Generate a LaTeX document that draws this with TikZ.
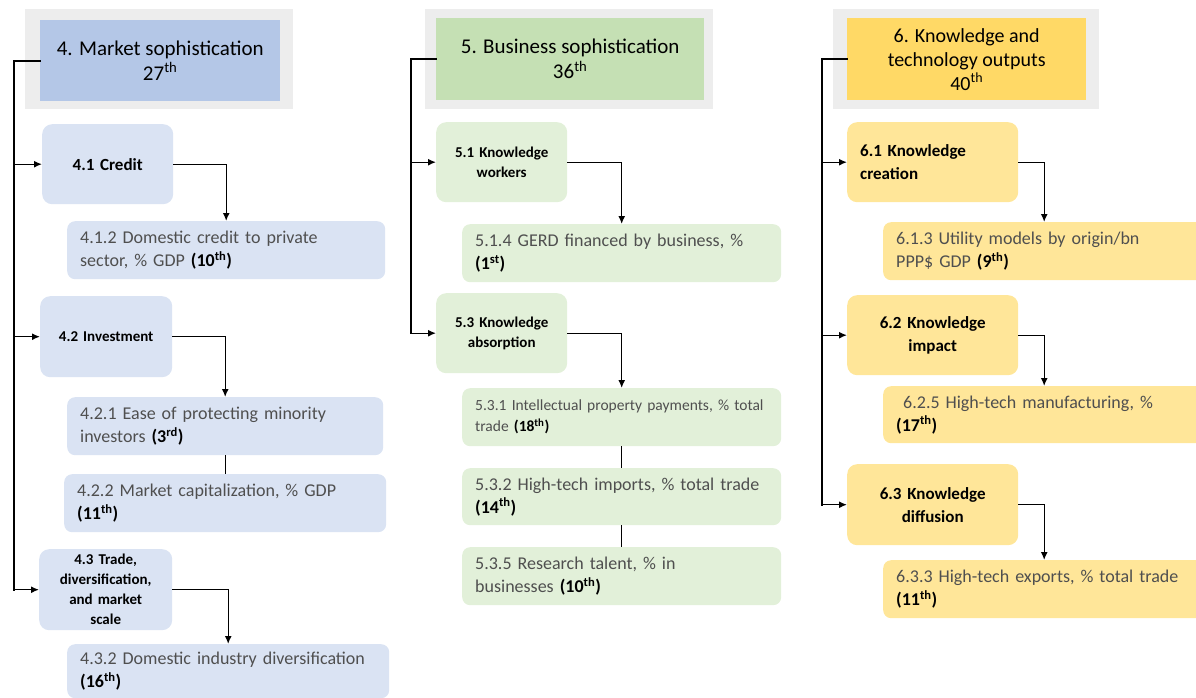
\documentclass[tikz,border=0pt]{standalone}
\usepackage{fontspec}
\setmainfont{Carlito}
\usetikzlibrary{arrows.meta}

\definecolor{bandgray}{HTML}{EDEDED}
\definecolor{blueH}{HTML}{B4C7E7}
\definecolor{blueL}{HTML}{DAE3F3}
\definecolor{greenH}{HTML}{C5E0B4}
\definecolor{greenL}{HTML}{E2F0D9}
\definecolor{goldH}{HTML}{FFD966}
\definecolor{goldL}{HTML}{FFE699}
\definecolor{leaftext}{HTML}{4F4F4F}

\newcommand{\rk}[1]{\textbf{\color{black}(#1)}}
\newcommand{\tha}{\textsuperscript{th}}

\tikzset{
  band/.style={anchor=north west, fill=bandgray, draw=none, inner sep=0pt},
  head/.style={anchor=north west, inner sep=0pt, align=center,
    font=\fontsize{21}{25}\selectfont, text=black},
  pillar/.style={anchor=north west, rounded corners=10pt, inner xsep=6pt, inner ysep=0pt,
    align=center, font=\fontsize{17}{23}\selectfont\bfseries},
  pillarsm/.style={pillar, font=\fontsize{15}{20}\selectfont\bfseries},
  leaf/.style={anchor=north west, rounded corners=8pt, inner xsep=13pt, inner ysep=0pt,
    align=left, text=leaftext, font=\fontsize{18}{23}\selectfont},
  trunk/.style={line width=2pt, line cap=rect},
  link/.style={line width=1.4pt, -{Latex[length=8pt,width=7pt]}},
  joint/.style={line width=1.4pt}
}

\begin{document}
\begin{tikzpicture}[x=1pt,y=-1pt]
\useasboundingbox (0,0) rectangle (1196,698);
\clip (0,0) rectangle (1196,698);

% ---------- 4. Market sophistication ----------
\node[band, minimum width=268pt, minimum height=100pt] (g4) at (25,9) {};
\node[head, fill=blueH, minimum width=240pt, minimum height=81pt] (h4) at (40,20)
  {4. Market sophistication\\27\tha};
\coordinate (t4) at (14,0);

\node[pillar, fill=blueL, text width=119pt, minimum height=80pt] (c41) at (42,124) {4.1 Credit};
\node[leaf, fill=blueL, text width=292pt, minimum height=58pt] (l412) at (67,221)
  {4.1.2 Domestic credit to private\\sector, \% GDP \rk{10\tha}};
\node[pillarsm, fill=blueL, text width=120pt, minimum height=81pt] (c42) at (40,296) {4.2 Investment};
\node[leaf, fill=blueL, text width=290pt, minimum height=58pt] (l421) at (67,397)
  {4.2.1 Ease of protecting minority\\investors \rk{3\textsuperscript{rd}}};
\node[leaf, fill=blueL, text width=296pt, minimum height=58pt] (l422) at (64,474)
  {4.2.2 Market capitalization, \% GDP\\\rk{11\tha}};
\node[pillarsm, fill=blueL, text width=121pt, minimum height=81pt] (c43) at (39,549)
  {4.3 Trade,\\diversification,\\and market\\scale};
\node[leaf, fill=blueL, text width=296pt, minimum height=54pt] (l432) at (67,644)
  {4.3.2 Domestic industry diversification\\\rk{16\tha}};

\draw[trunk] (h4.west) -- (h4.west -| t4) -- (c43.west -| t4);
\draw[link] (c41.west -| t4) -- (c41.west);
\draw[link] (c42.west -| t4) -- (c42.west);
\draw[link] (c43.west -| t4) -- (c43.west);
\draw[link] (c41.east) -| (l412.north);
\draw[link] (c42.east) -| (l421.north);
\draw[joint] (l421.south) -- (l421.south |- l422.north);
\draw[link] (c43.east) -| (l432.north);

% ---------- 5. Business sophistication ----------
\node[band, minimum width=288pt, minimum height=100pt] (g5) at (425,9) {};
\node[head, fill=greenH, minimum width=268pt, minimum height=82pt] (h5) at (436,18)
  {5. Business sophistication\\36\tha};
\coordinate (t5) at (411,0);

\node[pillarsm, fill=greenL, text width=119pt, minimum height=80pt] (c51) at (436,122)
  {5.1 Knowledge\\workers};
\node[leaf, fill=greenL, text width=293pt, minimum height=58pt] (l514) at (462,224)
  {5.1.4 GERD financed by business, \%\\\rk{1\textsuperscript{st}}};
\node[pillarsm, fill=greenL, text width=119pt, minimum height=80pt] (c53) at (436,293)
  {5.3 Knowledge\\absorption};
\node[leaf, fill=greenL, text width=293pt, minimum height=58pt,
  font=\fontsize{15.5}{21}\selectfont] (l531) at (462,388)
  {5.3.1 Intellectual property payments, \% total\\trade \rk{18\tha}};
\node[leaf, fill=greenL, text width=293pt, minimum height=57pt] (l532) at (462,468)
  {5.3.2 High-tech imports, \% total trade\\\rk{14\tha}};
\node[leaf, fill=greenL, text width=293pt, minimum height=58pt] (l535) at (462,547)
  {5.3.5 Research talent, \% in\\businesses \rk{10\tha}};

\draw[trunk] (h5.west) -- (h5.west -| t5) -- (c53.west -| t5);
\draw[link] (c51.west -| t5) -- (c51.west);
\draw[link] (c53.west -| t5) -- (c53.west);
\draw[link] (c51.east) -| (l514.north);
\draw[link] (c53.east) -| (l531.north);
\draw[joint] (l531.south) -- (l531.south |- l532.north);
\draw[joint] (l532.south) -- (l532.south |- l535.north);

% ---------- 6. Knowledge and technology outputs ----------
\node[band, minimum width=266pt, minimum height=100pt] (g6) at (833,9) {};
\node[head, fill=goldH, minimum width=239pt, minimum height=82pt,
  font=\fontsize{20}{24}\selectfont] (h6) at (847,18)
  {6. Knowledge and\\technology outputs\\40\tha};
\coordinate (t6) at (822,0);

\node[pillar, fill=goldL, text width=145pt, minimum height=80pt, align=left,
  inner xsep=13pt] (c61) at (847,122) {6.1 Knowledge\\creation};
\node[leaf, fill=goldL, text width=296pt, minimum height=58pt] (l613) at (883,222)
  {6.1.3 Utility models by origin/bn\\PPP\$ GDP \rk{9\tha}};
\node[pillar, fill=goldL, text width=159pt, minimum height=80pt] (c62) at (847,295)
  {6.2 Knowledge\\impact};
\node[leaf, fill=goldL, text width=296pt, minimum height=57pt] (l625) at (883,386)
  {\hspace{7pt}6.2.5 High-tech manufacturing, \%\\\rk{17\tha}};
\node[pillar, fill=goldL, text width=159pt, minimum height=81pt] (c63) at (847,464)
  {6.3 Knowledge\\diffusion};
\node[leaf, fill=goldL, text width=296pt, minimum height=58pt] (l633) at (883,560)
  {6.3.3 High-tech exports, \% total trade\\\rk{11\tha}};

\draw[trunk] (h6.west) -- (h6.west -| t6) -- (c63.west -| t6);
\draw[link] (c61.west -| t6) -- (c61.west);
\draw[link] (c62.west -| t6) -- (c62.west);
\draw[link] (c63.west -| t6) -- (c63.west);
\draw[link] (c61.east) -| (l613.north);
\draw[link] (c62.east) -| (l625.north);
\draw[link] (c63.east) -| (l633.north);
\end{tikzpicture}
\end{document}
